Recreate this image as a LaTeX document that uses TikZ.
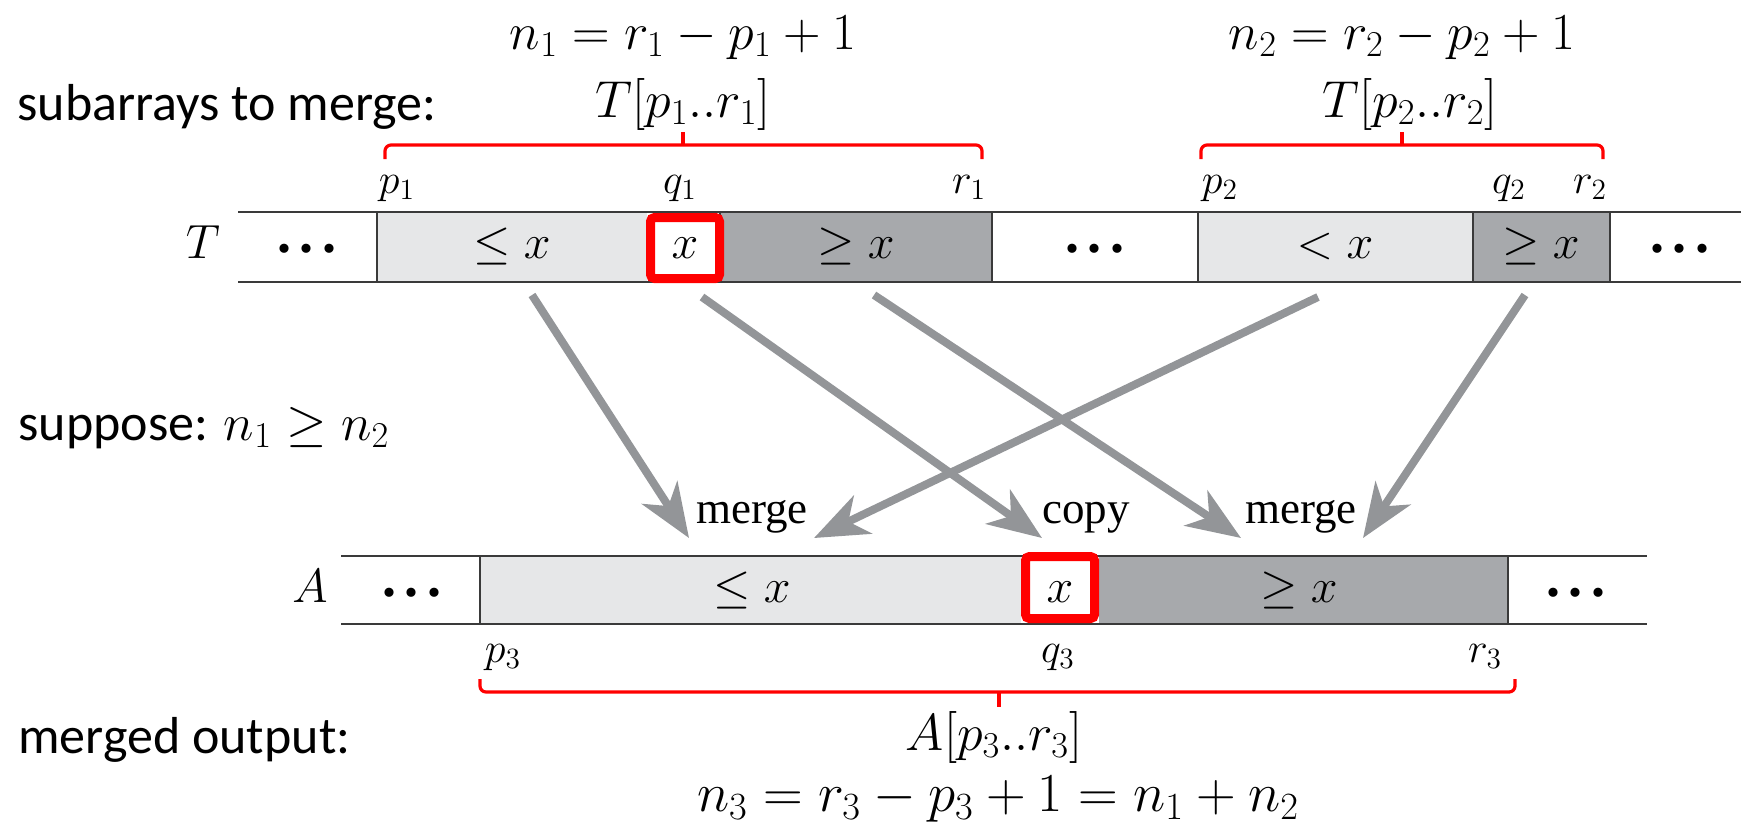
\RequirePackage{fix-cm}
\documentclass[tikz,border=0pt]{standalone}
\usepackage[no-math]{fontspec}
\setmainfont{Carlito}
\newfontfamily\tms{Liberation Serif}
\usetikzlibrary{arrows.meta}
\definecolor{lightc}{HTML}{E6E7E8}
\definecolor{darkc}{HTML}{A7A9AC}
\definecolor{arrowc}{HTML}{939598}
\definecolor{linec}{HTML}{3A3A3A}
\definecolor{redc}{HTML}{FF0000}
\newcommand{\dts}{\textbf{.}\hspace{4.5pt}\textbf{.}\hspace{4.5pt}\textbf{.}}
\tikzset{
  arrline/.style={draw=linec, line width=1pt},
  redbox/.style={draw=redc, line width=4.5pt, rounded corners=2pt, fill=white},
  bracket/.style={draw=redc, line width=1.6pt, rounded corners=3pt},
  arr/.style={draw=arrowc, line width=4pt, -{Stealth[length=27pt,width=21pt,inset=8pt]}},
  note/.style={inner sep=0pt, font=\fontsize{26}{30}\selectfont},
  bignote/.style={inner sep=0pt, font=\fontsize{27.5}{31}\selectfont},
  cellt/.style={inner sep=0pt, font=\tms\fontsize{24}{28}\selectfont},
  idx/.style={inner sep=0pt, font=\tms\fontsize{21}{24}\selectfont},
  albl/.style={inner sep=0pt, font=\tms\fontsize{22.5}{26}\selectfont},
  dotst/.style={inner sep=0pt, font=\tms\fontsize{28}{30}\selectfont},
}
\begin{document}
\begin{tikzpicture}[x=0.5pt,y=-0.5pt]
\useasboundingbox (0,0) rectangle (1741,827);

% ---------- T array ----------
\fill[lightc] (377,212) rectangle (647,282);
\fill[darkc] (720,212) rectangle (992,282);
\fill[lightc] (1198,212) rectangle (1473,282);
\fill[darkc] (1473,212) rectangle (1610,282);
\draw[arrline] (238,212) -- (1741,212);
\draw[arrline] (238,282) -- (1741,282);
\foreach \xx in {377,720,992,1198,1473,1610} \draw[arrline] (\xx,212) -- (\xx,282);
\draw[redbox] (650.5,217.5) rectangle (719.5,278.5);

\node[cellt, anchor=base] (tlab) at (203,258) {$T$};
\node[dotst, anchor=base] (td1) at (307,252) {\dts};
\node[cellt, anchor=base] (tle) at (512,258) {$\leq x$};
\node[cellt, anchor=base] (tx) at (685,258) {$x$};
\node[cellt, anchor=base] (tge1) at (856,258) {$\geq x$};
\node[dotst, anchor=base] (td2) at (1095,252) {\dts};
\node[cellt, anchor=base] (tlt) at (1335,258) {$< x$};
\node[cellt, anchor=base] (tge2) at (1541,258) {$\geq x$};
\node[dotst, anchor=base] (td3) at (1680,252) {\dts};

\node[idx, anchor=base] (p1) at (397,193) {$p_1$};
\node[idx, anchor=base] (q1) at (680,193) {$q_1$};
\node[idx, anchor=base] (r1) at (969,193) {$r_1$};
\node[idx, anchor=base] (p2) at (1220,193) {$p_2$};
\node[idx, anchor=base] (q2) at (1509,193) {$q_2$};
\node[idx, anchor=base] (r2) at (1590,193) {$r_2$};

% ---------- A array ----------
\fill[lightc] (480,556) rectangle (1021,624);
\fill[darkc] (1099,556) rectangle (1508,624);
\draw[arrline] (341,556) -- (1647,556);
\draw[arrline] (341,624) -- (1647,624);
\foreach \xx in {480,1508} \draw[arrline] (\xx,556) -- (\xx,624);
\draw[redbox] (1025.5,556.5) rectangle (1094.5,618.5);

\node[cellt, anchor=base] (alab) at (310,602) {$A$};
\node[dotst, anchor=base] (ad1) at (412,596) {\dts};
\node[cellt, anchor=base] (ale) at (752,602) {$\leq x$};
\node[cellt, anchor=base] (ax) at (1060,602) {$x$};
\node[cellt, anchor=base] (age) at (1299,602) {$\geq x$};
\node[dotst, anchor=base] (ad2) at (1576,596) {\dts};

\node[idx, anchor=base] (p3) at (503,662) {$p_3$};
\node[idx, anchor=base] (q3) at (1058,662) {$q_3$};
\node[idx, anchor=base] (r3) at (1485,662) {$r_3$};

% ---------- brackets ----------
\draw[bracket] (385,159) -- (385,145) -- (982,145) -- (982,159);
\draw[bracket] (683,145) -- (683,132);
\draw[bracket] (1201,159) -- (1201,145) -- (1603,145) -- (1603,159);
\draw[bracket] (1402,145) -- (1402,132);
\draw[bracket] (480,679) -- (480,692) -- (1515,692) -- (1515,679);
\draw[bracket] (999,692) -- (999,707);

% ---------- annotations ----------
\node[note, anchor=base] (n1) at (683,49) {$n_1 = r_1 - p_1 + 1$};
\node[note, anchor=base] (n2) at (1402,49) {$n_2 = r_2 - p_2 + 1$};
\node[note, anchor=base] (tr1) at (683,117) {$T[p_1..r_1]$};
\node[note, anchor=base] (tr2) at (1410,117) {$T[p_2..r_2]$};
\node[note, anchor=base west] (sub) at (17,120) {subarrays to merge:};
\node[note, anchor=base west] (sup) at (18,440) {suppose: $n_1 \geq n_2$};
\node[note, anchor=base west] (mo) at (18,753) {merged output:};
\node[note, anchor=base] (ar) at (994,750) {$A[p_3..r_3]$};
\node[bignote, anchor=base] (n3) at (998,811) {$n_3 = r_3 - p_3 + 1 = n_1 + n_2$};

% ---------- arrows ----------
\coordinate (s1) at (532,295); \coordinate (e1) at (689,538);
\coordinate (s2) at (702,297); \coordinate (e2) at (1042,538);
\coordinate (s3) at (874,295); \coordinate (e3) at (1241,538);
\coordinate (s4) at (1318,297); \coordinate (e4) at (814,538);
\coordinate (s5) at (1525,295); \coordinate (e5) at (1363,538);
\draw[arr] (s1) -- (e1);
\draw[arr] (s2) -- (e2);
\draw[arr] (s3) -- (e3);
\draw[arr] (s4) -- (e4);
\draw[arr] (s5) -- (e5);

\node[albl, anchor=base] (m1) at (752,523) {merge};
\node[albl, anchor=base] (cp) at (1086,523) {copy};
\node[albl, anchor=base] (m2) at (1301,523) {merge};
\end{tikzpicture}
\end{document}
